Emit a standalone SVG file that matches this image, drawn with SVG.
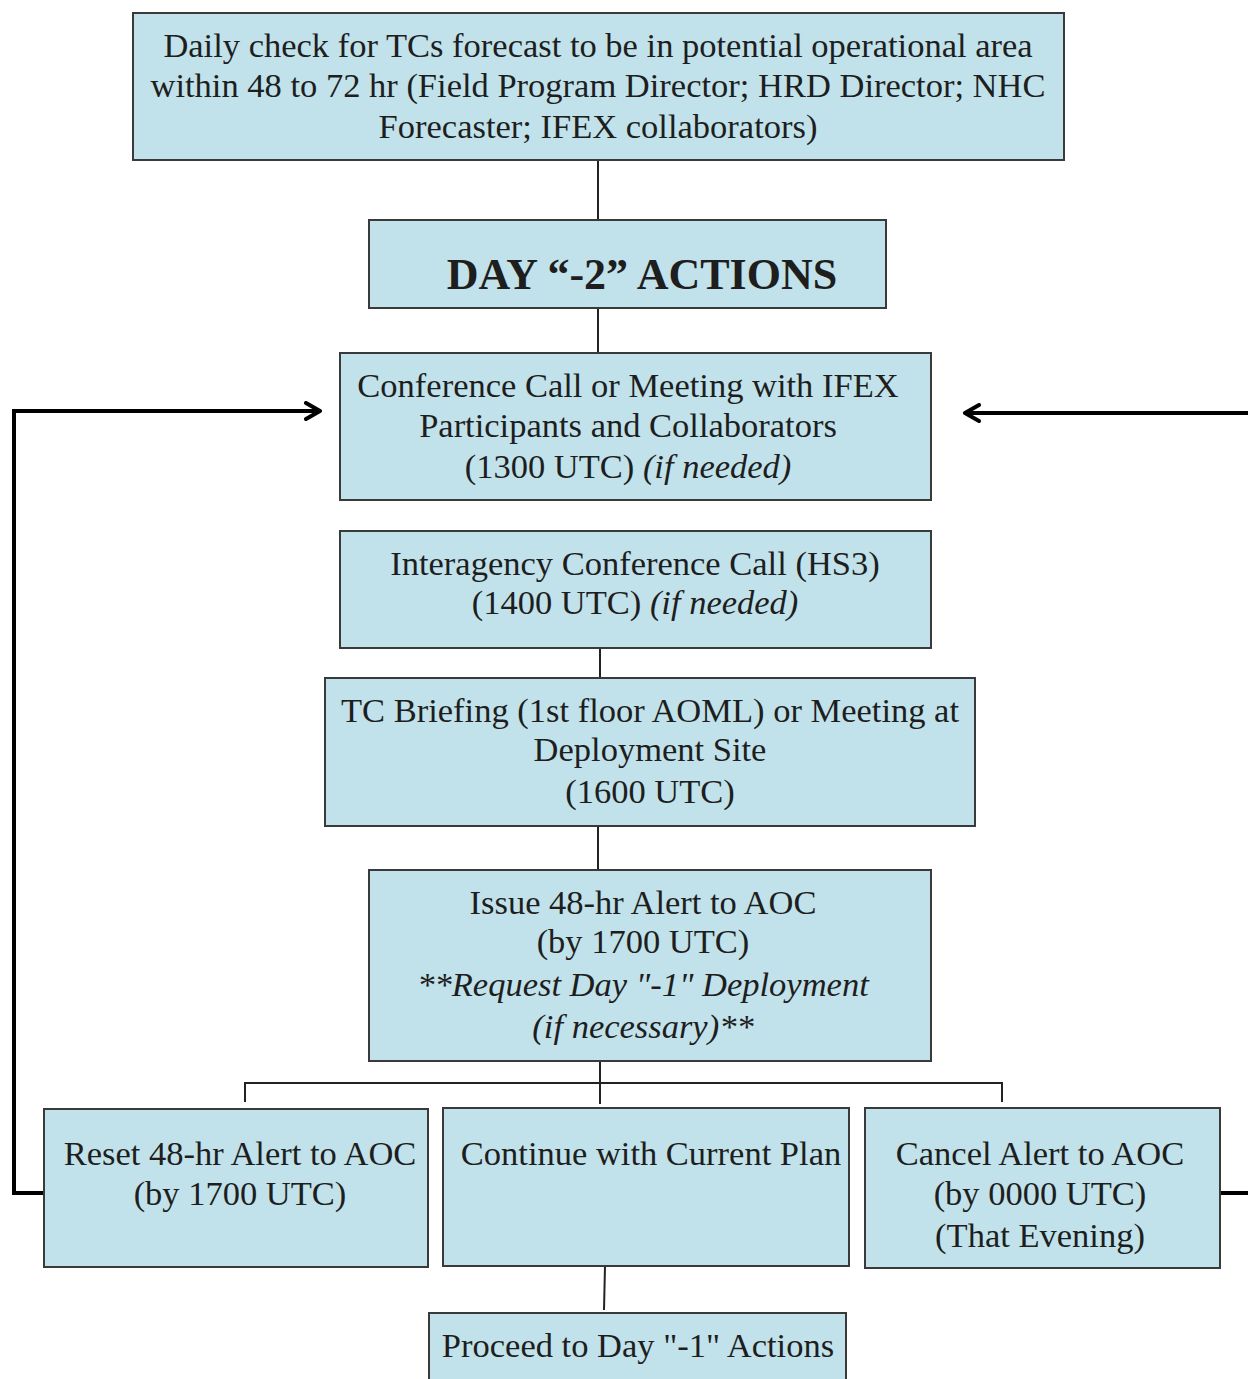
<svg xmlns="http://www.w3.org/2000/svg" width="1248" height="1379" viewBox="0 0 1248 1379">
<defs>
<style>
.box{fill:#c1e2ea;stroke:#3a3a3a;stroke-width:2}
text{font-family:"Liberation Serif","Times New Roman",serif;font-size:34.5px;fill:#1e1e1e;text-anchor:middle}
.it{font-style:italic}
.bold{font-weight:bold;font-size:44px}
.thin{stroke:#222;stroke-width:2;fill:none}
.thick{stroke:#000;stroke-width:4;fill:none}
</style>
<marker id="arr" viewBox="0 0 20 20" refX="18" refY="10" markerWidth="20" markerHeight="20" markerUnits="userSpaceOnUse" orient="auto">
<path d="M4,2 L18,10 L4,18" fill="none" stroke="#000" stroke-width="4" stroke-linecap="round" stroke-linejoin="round"/>
</marker>
</defs>
<rect width="1248" height="1379" fill="#fff"/>
<g id="connectors">
<line class="thin" x1="598" y1="160" x2="598" y2="220"/>
<line class="thin" x1="598" y1="308" x2="598" y2="353"/>
<line class="thin" x1="600" y1="648" x2="600" y2="678"/>
<line class="thin" x1="598" y1="826" x2="598" y2="870"/>
<line class="thin" x1="600" y1="1061" x2="600" y2="1104"/>
<polyline class="thin" points="245,1102 245,1083 1002,1083 1002,1102"/>
<line class="thin" x1="605" y1="1266" x2="604" y2="1310"/>
<polyline class="thick" points="44,1193 14,1193 14,411 320,411" marker-end="url(#arr)"/>
<polyline class="thick" points="1220,1193 1248,1193"/>
<polyline class="thick" points="1250,413 965,413" marker-end="url(#arr)"/>
</g>
<g id="n1"><rect class="box" x="133" y="13" width="931" height="147"/>
<text x="598" y="57">Daily check for TCs forecast to be in potential operational area</text>
<text x="598" y="97">within 48 to 72 hr (Field Program Director; HRD Director; NHC</text>
<text x="598" y="138">Forecaster; IFEX collaborators)</text></g>
<g id="n2"><rect class="box" x="369" y="220" width="517" height="88"/>
<text class="bold" x="642" y="289">DAY “-2” ACTIONS</text></g>
<g id="n3"><rect class="box" x="340" y="353" width="591" height="147"/>
<text x="628" y="397">Conference Call or Meeting with IFEX</text>
<text x="628" y="437">Participants and Collaborators</text>
<text x="628" y="478">(1300 UTC) <tspan class="it">(if needed)</tspan></text></g>
<g id="n4"><rect class="box" x="340" y="531" width="591" height="117"/>
<text x="635" y="575">Interagency Conference Call (HS3)</text>
<text x="635" y="614">(1400 UTC) <tspan class="it">(if needed)</tspan></text></g>
<g id="n5"><rect class="box" x="325" y="678" width="650" height="148"/>
<text x="650" y="722">TC Briefing (1st floor AOML) or Meeting at</text>
<text x="650" y="761">Deployment Site</text>
<text x="650" y="803">(1600 UTC)</text></g>
<g id="n6"><rect class="box" x="369" y="870" width="562" height="191"/>
<text x="643" y="914">Issue 48-hr Alert to AOC</text>
<text x="643" y="953">(by 1700 UTC)</text>
<text class="it" x="643" y="996">**Request Day "-1" Deployment</text>
<text class="it" x="643" y="1038">(if necessary)**</text></g>
<g id="n7"><rect class="box" x="44" y="1109" width="384" height="158"/>
<text x="240" y="1165">Reset 48-hr Alert to AOC</text>
<text x="240" y="1205">(by 1700 UTC)</text></g>
<g id="n8"><rect class="box" x="443" y="1108" width="406" height="158"/>
<text x="651" y="1165">Continue with Current Plan</text></g>
<g id="n9"><rect class="box" x="865" y="1108" width="355" height="160"/>
<text x="1040" y="1165">Cancel Alert to AOC</text>
<text x="1040" y="1205">(by 0000 UTC)</text>
<text x="1040" y="1247">(That Evening)</text></g>
<g id="n10"><rect class="box" x="429" y="1313" width="417" height="68"/>
<text x="638" y="1357">Proceed to Day "-1" Actions</text></g>
</svg>
